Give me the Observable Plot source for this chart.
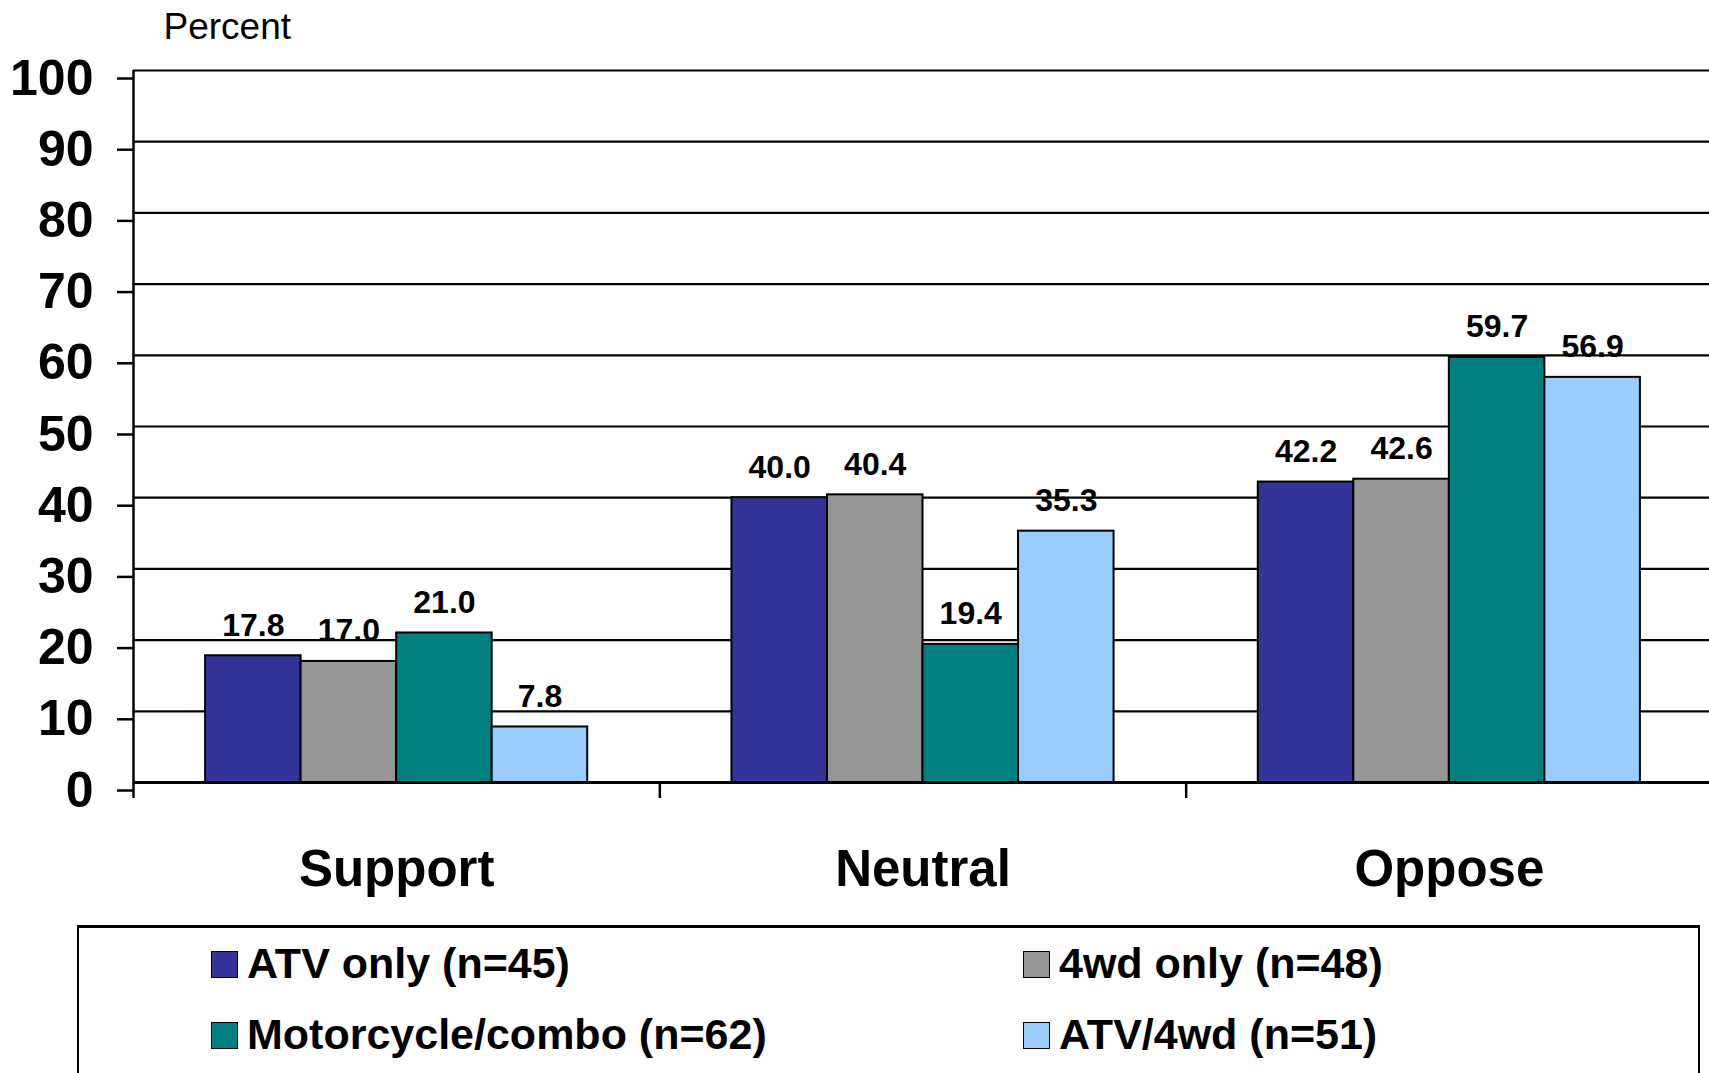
<!DOCTYPE html>
<html>
<head>
<meta charset="utf-8">
<script src="https://cdn.jsdelivr.net/npm/d3@7"></script>
<script src="https://cdn.jsdelivr.net/npm/@observablehq/plot@0.6"></script>
<style>
html, body { margin: 0; padding: 0; background: #fff; overflow: hidden; }
body { position: relative; width: 1709px; height: 1073px; font-family: "Liberation Sans", Arial, sans-serif; }
#chart { position: absolute; left: 0; top: 0; }
#legend {
  position: absolute; left: 77px; top: 925px; width: 1623px; height: 200px;
  border: 2px solid #000; border-top-width: 3px; box-sizing: border-box;
  padding: 0 0 0 132px;
  display: grid; grid-template-columns: 812px auto; grid-auto-rows: 71px;
}
.item { font-weight: bold; font-size: 43px; line-height: 71px; white-space: nowrap; color: #000; }
.sw { display: inline-block; width: 27px; height: 27px; border: 1.5px solid #000; box-sizing: border-box; margin-right: 9px; }
</style>
</head>
<body>
<div id="chart"></div>
<div id="legend"></div>
<script>
// ---- data ----
const categories = ["Support", "Neutral", "Oppose"];
const seriesNames = ["ATV only (n=45)", "4wd only (n=48)", "Motorcycle/combo (n=62)", "ATV/4wd (n=51)"];
const atvOnly     = [17.8, 40.0, 42.2];
const wd4Only     = [17.0, 40.4, 42.6];
const motorcycle  = [21.0, 19.4, 59.7];
const atv4wd      = [7.8, 35.3, 56.9];
const yTicks = [0, 10, 20, 30, 40, 50, 60, 70, 80, 90, 100];
const yLabel = "Percent";
const seriesColors = ["#333399", "#969696", "#008080", "#99CCFF"];

// ---- table ----
const seriesValues = [atvOnly, wd4Only, motorcycle, atv4wd];
const data = categories.flatMap((c, i) =>
  seriesNames.map((s, j) => ({category: c, ci: i, series: s, sj: j, value: seriesValues[j][i]}))
);

// layout within each category band (fractions of a band)
const groupPad = 0.137;
const barW = (1 - 2 * groupPad) / seriesNames.length;
const bx1 = d => d.ci + groupPad + d.sj * barW;
const bx2 = d => d.ci + groupPad + (d.sj + 1) * barW;
const bxc = d => d.ci + groupPad + (d.sj + 0.5) * barW;

const font = "'Liberation Sans', Arial, sans-serif";

const chart = Plot.plot({
  width: 1712,
  height: 900,
  marginLeft: 133,
  marginRight: 0,
  marginTop: 70,
  marginBottom: 118,
  style: {fontFamily: font, background: "#fff", maxWidth: "none", color: "#000"},
  x: {type: "linear", domain: [0, categories.length], label: null},
  y: {domain: [0, 100], label: null},
  color: {domain: seriesNames, range: seriesColors},
  marks: [
    Plot.ruleY(yTicks, {stroke: "#000", strokeWidth: 2.2}),
    Plot.rect(data, {x1: bx1, x2: bx2, y1: 0, y2: "value", fill: "series", stroke: "#000", strokeWidth: 2}),
    Plot.ruleY([0], {stroke: "#000", strokeWidth: 3}),
    Plot.ruleX([0], {stroke: "#000", strokeWidth: 2.5}),
    Plot.axisY(yTicks, {tickSize: 16, tickPadding: 24, fontSize: 50, fontWeight: "bold", dy: 8, stroke: "#000", strokeWidth: 2.5, fill: "#000"}),
    Plot.axisX(d3.range(categories.length + 1), {tickSize: 16, tickFormat: () => "", stroke: "#000", strokeWidth: 2.5}),
    Plot.axisX(categories.map((c, i) => i + 0.5), {tickSize: 0, tickPadding: 67, tickFormat: d => categories[Math.floor(d)], fontSize: 51, fontWeight: "bold", fill: "#000"}),
    Plot.text(data, {x: bxc, y: "value", text: d => d.value.toFixed(1), lineAnchor: "bottom", dy: -20, fontSize: 32, fontWeight: "bold", fill: "#000"}),
    Plot.text([yLabel], {frameAnchor: "top-left", textAnchor: "start", lineAnchor: "bottom", dx: 30, dy: -32, fontSize: 37, fill: "#000"})
  ]
});
document.getElementById("chart").appendChild(chart);

// ---- legend ----
const legend = document.getElementById("legend");
seriesNames.forEach((name, j) => {
  const item = document.createElement("div");
  item.className = "item";
  const sw = document.createElement("span");
  sw.className = "sw";
  sw.style.background = seriesColors[j];
  item.appendChild(sw);
  item.appendChild(document.createTextNode(name));
  legend.appendChild(item);
});
</script>
</body>
</html>
